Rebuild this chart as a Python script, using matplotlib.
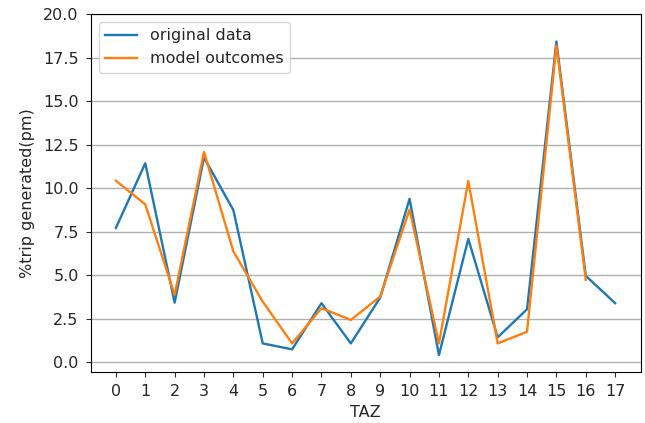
import matplotlib
matplotlib.use("Agg")
from matplotlib import pyplot as plt
import numpy as np

# trips generated per TAZ, pm period
taz = list(range(18))
original = [7.72, 11.43, 3.43, 11.76, 8.74, 1.09, 0.75, 3.40, 1.09, 3.72,
            9.39, 0.42, 7.09, 1.44, 3.05, 18.42, 4.97, 3.40]
model = [10.43, 9.07, 3.88, 12.08, 6.37, 3.49, 1.09, 3.11, 2.44, 3.78,
         8.78, 1.09, 10.41, 1.09, 1.76, 18.19, 4.74]

plt.rcParams['font.size'] = 11.5
plt.rcParams['lines.linewidth'] = 1.7
plt.rcParams['text.color'] = '#262626'
plt.rcParams['xtick.color'] = '#262626'
plt.rcParams['ytick.color'] = '#262626'
plt.rcParams['axes.labelcolor'] = '#262626'

fig = plt.figure(figsize=(6.45, 4.23), dpi=100)
ax = fig.add_axes([0.141, 0.1206, 0.8523, 0.8463])

ax.plot(taz, original, label='original data')
ax.plot(taz[:len(model)], model, label='model outcomes')
ax.set_xticks(taz)
ax.set_yticks(np.arange(0, 20.1, 2.5))
ax.set_xlim(-0.85, 17.87)
ax.set_ylim(-0.55, 20.0)
ax.tick_params(length=3.8, pad=5.0)
ax.grid(axis='y', linewidth=1.0)
ax.set_xlabel('TAZ', labelpad=4)
ax.set_ylabel('%trip generated(pm)', labelpad=6)
ax.legend(loc='upper left')

fig.savefig('out.png')
